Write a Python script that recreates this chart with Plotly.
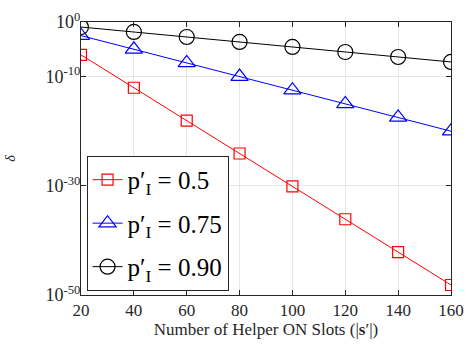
import plotly.graph_objects as go

slots = [20, 40, 60, 80, 100, 120, 140, 160]
delta_p050 = [9.5e-7, 9.1e-13, 8.7e-19, 8.3e-25, 7.9e-31, 7.5e-37, 7.2e-43, 6.8e-49]
delta_p075 = [3.2e-3, 1.0e-5, 3.2e-8, 1.0e-10, 3.2e-13, 1.0e-15, 3.3e-18, 1.0e-20]
delta_p090 = [0.12, 0.015, 1.8e-3, 2.2e-4, 2.7e-5, 3.2e-6, 3.9e-7, 4.8e-8]

ytick_vals = [1e-50, 1e-30, 1e-10, 1e0]
ytick_text = ["10<sup>-50</sup>", "10<sup>-30</sup>", "10<sup>-10</sup>", "10<sup>0</sup>"]
xtick_vals = [20, 40, 60, 80, 100, 120, 140, 160]

FONT = "Times New Roman, Liberation Serif, DejaVu Serif, serif"

fig = go.Figure()
fig.add_trace(go.Scatter(x=slots, y=delta_p050, mode="lines+markers",
                         name="p′<sub>I</sub> = 0.5", legendgroup="a",
                         line=dict(color="#ff0000", width=1),
                         marker=dict(symbol="square-open", size=11, color="#ff0000", line=dict(width=1.2))))
fig.add_trace(go.Scatter(x=slots, y=delta_p075, mode="lines+markers",
                         name="p′<sub>I</sub> = 0.75", legendgroup="b",
                         line=dict(color="#0000ff", width=1),
                         marker=dict(symbol="triangle-up-open", size=15, color="#0000ff", line=dict(width=1.2))))
fig.add_trace(go.Scatter(x=slots, y=delta_p090, mode="lines+markers",
                         name="p′<sub>I</sub> = 0.90", legendgroup="c",
                         line=dict(color="#000000", width=1),
                         marker=dict(symbol="circle-open", size=15, color="#000000", line=dict(width=1.2))))

fig.update_layout(
    width=474, height=349,
    margin=dict(l=80, r=19, t=10, b=54),
    paper_bgcolor="white", plot_bgcolor="white",
    font=dict(family=FONT, color="#262626", size=17),
    showlegend=True,
    legend=dict(x=0.015, y=0.015, xanchor="left", yanchor="bottom",
                bgcolor="white", bordercolor="#262626", borderwidth=1,
                font=dict(family=FONT, size=25, color="black"),
                itemwidth=30, tracegroupgap=8),
)
fig.update_xaxes(range=[20, 160], tickvals=xtick_vals,
                 showgrid=True, gridcolor="#e6e6e6", gridwidth=1,
                 showline=True, linecolor="#262626", linewidth=1, mirror="ticks",
                 ticks="inside", ticklen=5, tickcolor="#262626",
                 zeroline=False,
                 title=dict(text="Number of Helper ON Slots (|<b>s</b>′|)", font=dict(size=17), standoff=0))
fig.update_yaxes(type="log", range=[-50, 0], tickvals=ytick_vals, ticktext=ytick_text,
                 showgrid=True, gridcolor="#e6e6e6", gridwidth=1,
                 showline=True, linecolor="#262626", linewidth=1, mirror="ticks",
                 ticks="inside", ticklen=5, tickcolor="#262626",
                 tickfont=dict(size=18), ticklabeloverflow="allow", ticklabelstandoff=-4,
                 zeroline=False,
                 title=dict(text="<i>δ</i>", font=dict(size=14), standoff=26))

fig.write_html("out.html")
